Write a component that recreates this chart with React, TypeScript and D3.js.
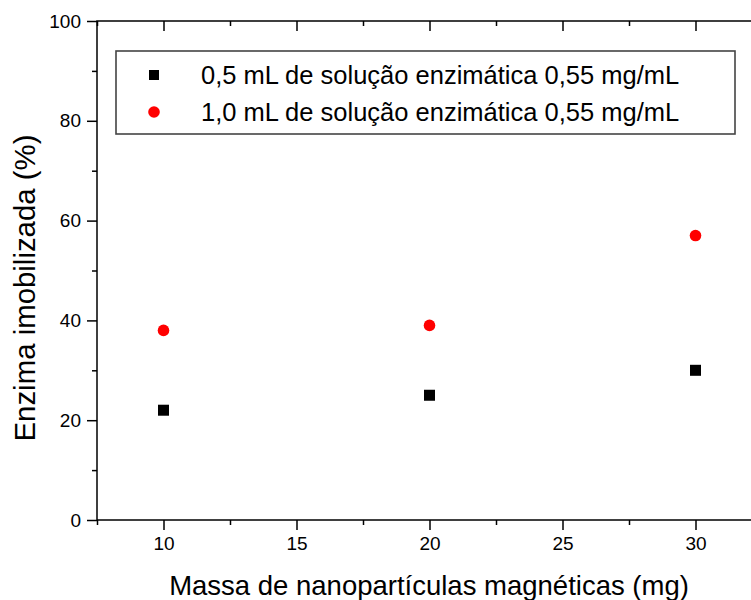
import React from "react";
import * as d3 from "d3";

// mass of magnetic nanoparticles (mg)
const massas = [10, 20, 30];
// immobilized enzyme (%)
const serie05 = [22, 25, 30];
const serie10 = [38, 39, 57];
const legendas = [
    "0,5 mL de solução enzimática 0,55 mg/mL",
    "1,0 mL de solução enzimática 0,55 mg/mL",
];
const xMajor = [10, 15, 20, 25, 30];
const xMinor = [7.5, 12.5, 17.5, 22.5, 27.5, 32.5];
const yMajor = [0, 20, 40, 60, 80, 100];
const yMinor = [10, 30, 50, 70, 90];

const FONT = "'Liberation Sans', Arial, sans-serif";

export default function App() {
    const ref = React.useRef<SVGSVGElement>(null);

    React.useEffect(() => {
        drawChart();
    }, []);

    function drawChart() {
        const svg = d3.select(ref.current);
        svg.selectAll("*").remove();

        const left = 97,
            right = 762,
            top = 21,
            bottom = 520;

        var x = d3.scaleLinear().domain([7.5, 32.5]).range([left, right]);
        var y = d3.scaleLinear().domain([0, 100]).range([bottom, top]);

        function styleAxis(g, labels) {
            g.select(".domain").remove();
            g.selectAll(".tick line")
                .attr("stroke", "#000")
                .attr("stroke-width", 1.5);
            g.selectAll(".tick text")
                .attr("font-family", FONT)
                .attr("font-size", 19)
                .attr("fill", "#000");
            if (!labels) g.selectAll(".tick text").remove();
        }

        // bottom axis
        svg.append("g")
            .attr("transform", `translate(0,${bottom})`)
            .call(d3.axisBottom(x).tickValues(xMinor).tickSize(5).tickSizeOuter(0))
            .call((g) => styleAxis(g, false));
        svg.append("g")
            .attr("transform", `translate(0,${bottom})`)
            .call(
                d3.axisBottom(x).tickValues(xMajor).tickSize(10).tickPadding(7).tickSizeOuter(0)
            )
            .call((g) => styleAxis(g, true));

        // top axis (inward ticks)
        svg.append("g")
            .attr("transform", `translate(0,${top})`)
            .call(d3.axisTop(x).tickValues(xMinor).tickSize(-5).tickSizeOuter(0))
            .call((g) => styleAxis(g, false));
        svg.append("g")
            .attr("transform", `translate(0,${top})`)
            .call(d3.axisTop(x).tickValues(xMajor).tickSize(-10).tickSizeOuter(0))
            .call((g) => styleAxis(g, false));

        // left axis
        svg.append("g")
            .attr("transform", `translate(${left},0)`)
            .call(d3.axisLeft(y).tickValues(yMinor).tickSize(5).tickSizeOuter(0))
            .call((g) => styleAxis(g, false));
        svg.append("g")
            .attr("transform", `translate(${left},0)`)
            .call(
                d3.axisLeft(y).tickValues(yMajor).tickSize(10).tickPadding(6).tickSizeOuter(0)
            )
            .call((g) => styleAxis(g, true));

        // right axis (inward ticks)
        svg.append("g")
            .attr("transform", `translate(${right},0)`)
            .call(d3.axisRight(y).tickValues(yMinor).tickSize(-5).tickSizeOuter(0))
            .call((g) => styleAxis(g, false));
        svg.append("g")
            .attr("transform", `translate(${right},0)`)
            .call(d3.axisRight(y).tickValues(yMajor).tickSize(-10).tickSizeOuter(0))
            .call((g) => styleAxis(g, false));

        // frame
        svg.append("rect")
            .attr("x", left)
            .attr("y", top)
            .attr("width", right - left)
            .attr("height", bottom - top)
            .attr("fill", "none")
            .attr("stroke", "#000")
            .attr("stroke-width", 1.5);

        // data points
        const s = 11;
        svg.append("g")
            .selectAll("rect")
            .data(massas)
            .join("rect")
            .attr("x", (d) => x(d) - s / 2)
            .attr("y", (d, i) => y(serie05[i]) - s / 2)
            .attr("width", s)
            .attr("height", s)
            .attr("fill", "#000");

        svg.append("g")
            .selectAll("circle")
            .data(massas)
            .join("circle")
            .attr("cx", (d) => x(d))
            .attr("cy", (d, i) => y(serie10[i]))
            .attr("r", 5.8)
            .attr("fill", "#ff0000");

        // legend
        const legend = svg.append("g");
        legend
            .append("rect")
            .attr("x", 116)
            .attr("y", 51)
            .attr("width", 619)
            .attr("height", 83)
            .attr("fill", "#fff")
            .attr("stroke", "#444")
            .attr("stroke-width", 1.6);
        legend
            .append("rect")
            .attr("x", 154 - 5)
            .attr("y", 75 - 5)
            .attr("width", 10)
            .attr("height", 10)
            .attr("fill", "#000");
        legend
            .append("circle")
            .attr("cx", 154)
            .attr("cy", 112)
            .attr("r", 5.8)
            .attr("fill", "#ff0000");
        legend
            .selectAll("text")
            .data(legendas)
            .join("text")
            .attr("x", 201)
            .attr("y", (d, i) => 84 + i * 37)
            .attr("font-family", FONT)
            .attr("font-size", 25.5)
            .text((d) => d);

        // axis titles
        svg.append("text")
            .attr("transform", "translate(35,288) rotate(-90)")
            .attr("text-anchor", "middle")
            .attr("font-family", FONT)
            .attr("font-size", 29.4)
            .text("Enzima imobilizada (%)");

        svg.append("text")
            .attr("x", 429)
            .attr("y", 595)
            .attr("text-anchor", "middle")
            .attr("font-family", FONT)
            .attr("font-size", 27.5)
            .text("Massa de nanopartículas magnéticas (mg)");
    }

    return (
        <div style={{ position: "absolute", left: 0, top: 0 }}>
            <svg ref={ref} width={751} height={600} style={{ display: "block" }} />
        </div>
    );
}
